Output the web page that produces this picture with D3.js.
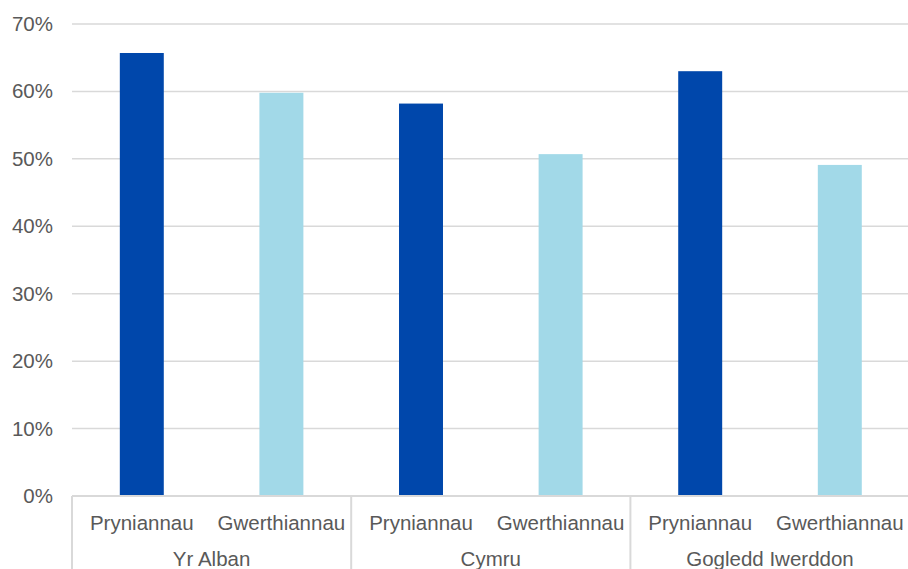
<!DOCTYPE html>
<html>
<head>
<meta charset="utf-8">
<script src="https://cdn.jsdelivr.net/npm/d3@7"></script>
<style>
  html, body { margin: 0; padding: 0; background: #fff; }
  svg { display: block; font-family: "Liberation Sans", Arial, sans-serif; }
</style>
</head>
<body>
<svg id="chart" width="908" height="569"></svg>
<script>
// Regions and measures shown on the chart
const regions = ["Yr Alban", "Cymru", "Gogledd Iwerddon"];
const measures = ["Pryniannau", "Gwerthiannau"];
// Share (%) per region for each measure
const pryniannau = [65.7, 58.2, 63.0];
const gwerthiannau = [59.8, 50.7, 49.1];
const yTicks = [0, 10, 20, 30, 40, 50, 60, 70];

const colours = { "Pryniannau": "#0047ab", "Gwerthiannau": "#a2d9e8" };
const textColour = "#595959";
const gridColour = "#d9d9d9";

const svg = d3.select("#chart");
const plotLeft = 72, plotRight = 909.6, plotTop = 24, plotBottom = 496, svgHeight = 569;

const rows = regions.map((r, i) => ({
  region: r,
  values: [
    { measure: measures[0], value: pryniannau[i] },
    { measure: measures[1], value: gwerthiannau[i] }
  ]
}));

const x0 = d3.scaleBand().domain(regions).range([plotLeft, plotRight]).padding(0);
const x1 = d3.scaleBand().domain(measures).range([0, x0.bandwidth()])
  .paddingInner(0.685).paddingOuter(0.685 / 2);
const y = d3.scaleLinear().domain([0, 70]).range([plotBottom, plotTop]);

// Horizontal gridlines
svg.append("g")
  .selectAll("line")
  .data(yTicks.filter(t => t > 0))
  .join("line")
  .attr("x1", plotLeft).attr("x2", plotRight)
  .attr("y1", d => y(d)).attr("y2", d => y(d))
  .attr("stroke", gridColour).attr("stroke-width", 1.5);

// Y axis labels
const yAxis = svg.append("g")
  .attr("transform", `translate(${plotLeft},0)`)
  .call(d3.axisLeft(y).tickValues(yTicks).tickFormat(d => d + "%").tickSize(0).tickPadding(19));
yAxis.select(".domain").remove();
yAxis.selectAll("text")
  .attr("fill", textColour)
  .style("font-size", "20.5px")
  .style("font-family", "'Liberation Sans', Arial, sans-serif");

// Bars
const groups = svg.append("g")
  .selectAll("g")
  .data(rows)
  .join("g")
  .attr("transform", d => `translate(${x0(d.region)},0)`);

groups.selectAll("rect")
  .data(d => d.values)
  .join("rect")
  .attr("x", d => x1(d.measure))
  .attr("width", x1.bandwidth())
  .attr("y", d => y(d.value))
  .attr("height", d => y(0) - y(d.value))
  .attr("fill", d => colours[d.measure]);

// Baseline
svg.append("line")
  .attr("x1", plotLeft).attr("x2", plotRight)
  .attr("y1", y(0)).attr("y2", y(0))
  .attr("stroke", gridColour).attr("stroke-width", 2);

// Group dividers for the two-level category axis
const dividers = regions.map(r => x0(r)).concat([x0(regions[regions.length - 1]) + x0.bandwidth()]);
svg.append("g")
  .selectAll("line")
  .data(dividers)
  .join("line")
  .attr("x1", d => d).attr("x2", d => d)
  .attr("y1", y(0)).attr("y2", svgHeight)
  .attr("stroke", gridColour).attr("stroke-width", 2);

// Measure labels
groups.selectAll("text.measure")
  .data(d => d.values)
  .join("text")
  .attr("class", "measure")
  .attr("x", d => x1(d.measure) + x1.bandwidth() / 2)
  .attr("y", 529.5)
  .attr("text-anchor", "middle")
  .attr("fill", textColour)
  .style("font-size", "20.5px")
  .text(d => d.measure);

// Region labels
groups.append("text")
  .attr("x", x0.bandwidth() / 2)
  .attr("y", 565.5)
  .attr("text-anchor", "middle")
  .attr("fill", textColour)
  .style("font-size", "20.5px")
  .text(d => d.region);
</script>
</body>
</html>
